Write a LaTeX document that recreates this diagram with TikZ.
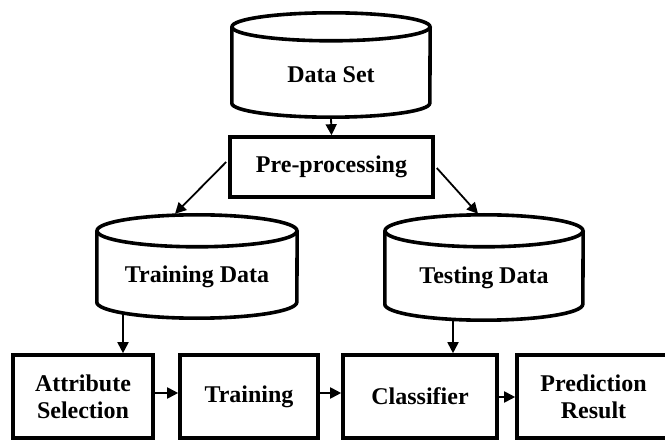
\documentclass[tikz,border=0pt]{standalone}
\usepackage{fontspec}
\setmainfont{Liberation Serif}
\usetikzlibrary{calc,arrows.meta}
\begin{document}
\begin{tikzpicture}[x=1pt,y=1pt,
  every node/.style={font=\fontsize{24}{27}\selectfont\bfseries, align=center, inner sep=0pt},
  boxnode/.style={draw, line width=3.6pt, minimum height=60pt},
  cylnode/.style={draw=none},
  cylline/.style={line width=3.6pt},
  arr/.style={line width=1.8pt, -{Triangle[length=11pt,width=11pt]}}]
\useasboundingbox (0,0) rectangle (665,440);
% nodes
\node[cylnode, minimum width=198pt, minimum height=104pt] (ds) at (331,375) {\raisebox{-10pt}[\height][\depth]{Data Set}};
\node[boxnode, minimum width=203pt, minimum height=60pt] (pre) at (331.5,273) {Pre-processing};
\node[cylnode, minimum width=200pt, minimum height=103pt] (tr) at (197,173.5) {\raisebox{-10pt}[\height][\depth]{Training Data}};
\node[cylnode, minimum width=198pt, minimum height=105pt] (te) at (484,172.5) {\raisebox{-10pt}[\height][\depth]{Testing Data}};
\node[boxnode, minimum width=140pt, minimum height=83pt] (attr) at (83,43.5) {Attribute\\Selection};
\node[boxnode, minimum width=138pt, minimum height=83pt] (trn) at (249,43.5) {Training};
\node[boxnode, minimum width=154pt, minimum height=83pt] (clf) at (420,43.5) {Classifier};
\node[boxnode, minimum width=153pt, minimum height=83pt] (pred) at (593.5,43.5) {Prediction\\Result};
% cylinder outlines
\foreach \n/\w/\r in {ds/198/14, tr/200/16, te/198/16} {
  \draw[cylline] ($(\n.north west)+(0,-\r)$) -- ($(\n.south west)+(0,\r)$)
     arc[start angle=180, end angle=360, x radius=\w/2, y radius=\r]
     -- ($(\n.north east)+(0,-\r)$);
  \draw[cylline] ($(\n.north)+(0,-\r)$) ellipse[x radius=\w/2, y radius=\r];
}
% connectors
\draw[arr] (ds.south) -- (pre.north);
\draw[arr] ($(pre.west)+(-2,5)$) -- ($(tr.north)+(-22,1)$);
\draw[arr] ($(pre.east)+(2,-1)$) -- ($(te.north)+(-6,1)$);
\draw[arr] ($(tr.south)+(-74,5.2)$) -- ($(attr.north)+(40,0)$);
\draw[arr] ($(te.south)+(-31,0.8)$) -- ($(clf.north)+(33,0)$);
\draw[arr] ($(attr.east)+(-4,3.5)$) -- ($(trn.west)+(0,3.5)$);
\draw[arr] ($(trn.east)+(0,3.5)$) -- ($(clf.west)+(0,3.5)$);
\draw[arr] ($(clf.east)+(-4,-0.5)$) -- ($(pred.west)+(0,-0.5)$);
\end{tikzpicture}
\end{document}
